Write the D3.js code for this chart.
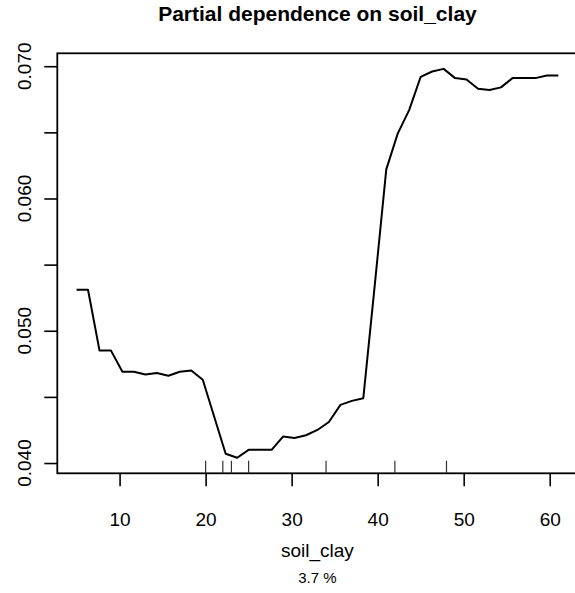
<!DOCTYPE html>
<meta charset="utf-8">
<style>
body { margin: 0; background: #fff; }
svg { font-family: "Liberation Sans", Arial, sans-serif; }
.axis text { font-size: 19px; fill: #000; }
.axis line { stroke: #000; stroke-width: 1.6px; }
.axis .domain { display: none; }
.curve { fill: none; stroke: #000; stroke-width: 2px; stroke-linejoin: round; }
.rug line { stroke: #333; stroke-width: 1.2px; }
</style>
<svg width="575" height="593"></svg>
<script src="https://d3js.org/d3.v7.min.js"></script>
<script>

// soil_clay grid and partial dependence values
var soilClay = [5, 6.33, 7.67, 9, 10.33, 11.67, 13, 14.33, 15.67, 17, 18.33, 19.67,
  21, 22.33, 23.67, 25, 26.33, 27.67, 29, 30.33, 31.67, 33, 34.33, 35.67, 37,
  38.33, 39.67, 41, 42.33, 43.67, 45, 46.33, 47.67, 49, 50.33, 51.67, 53, 54.33,
  55.67, 57, 58.33, 59.67, 61];
var partialDep = [0.0531, 0.0531, 0.0485, 0.0485, 0.0469, 0.0469, 0.0467, 0.0468,
  0.0466, 0.0469, 0.0470, 0.0463, 0.0435, 0.0407, 0.0404, 0.0410, 0.0410, 0.0410,
  0.0420, 0.0419, 0.0421, 0.0425, 0.0431, 0.0444, 0.0447, 0.0449, 0.0535, 0.0622,
  0.0649, 0.0667, 0.0692, 0.0696, 0.0698, 0.0691, 0.0690, 0.0683, 0.0682, 0.0684,
  0.0691, 0.0691, 0.0691, 0.0693, 0.0693];

// deciles of the training data (rug)
var rugValues = [20, 22, 23, 25, 34, 42, 48];

var xTicks = [10, 20, 30, 40, 50, 60];
var yTicks = [0.040, 0.045, 0.050, 0.055, 0.060, 0.065, 0.070];
var yTickLabels = ["0.040", "0.050", "0.060", "0.070"];

var svg = d3.select("svg");

var plotLeft = 57.3, plotRight = 577.6, plotTop = 53.3, plotBottom = 473.3;

// R style 4% padding on the data range
function padded(ext) {
  var p = (ext[1] - ext[0]) * 0.04;
  return [ext[0] - p, ext[1] + p];
}

var x = d3.scaleLinear()
    .domain(padded(d3.extent(soilClay)))
    .range([plotLeft, plotRight]);

var y = d3.scaleLinear()
    .domain(padded(d3.extent(partialDep)))
    .range([plotBottom, plotTop]);

// box
svg.append("rect")
    .attr("x", plotLeft)
    .attr("y", plotTop)
    .attr("width", plotRight - plotLeft)
    .attr("height", plotBottom - plotTop)
    .attr("fill", "none")
    .attr("stroke", "#000")
    .attr("stroke-width", 1.8);

// x axis
svg.append("g")
    .attr("class", "axis")
    .attr("transform", "translate(0," + plotBottom + ")")
    .call(d3.axisBottom(x).tickValues(xTicks).tickSize(13).tickSizeOuter(0).tickPadding(26)
      .tickFormat(d3.format("d")));

// y axis (ticks only, labels rotated below)
svg.append("g")
    .attr("class", "axis")
    .attr("transform", "translate(" + plotLeft + ",0)")
    .call(d3.axisLeft(y).tickValues(yTicks).tickSize(13).tickSizeOuter(0).tickFormat(""));

svg.append("g")
    .attr("class", "axis")
  .selectAll("text")
  .data(yTickLabels)
  .enter().append("text")
    .attr("transform", function(d) { return "translate(31," + y(+d) + ") rotate(-90)"; })
    .attr("text-anchor", "middle")
    .text(function(d) { return d; });

// rug
svg.append("g")
    .attr("class", "rug")
  .selectAll("line")
  .data(rugValues)
  .enter().append("line")
    .attr("x1", function(d) { return x(d); })
    .attr("x2", function(d) { return x(d); })
    .attr("y1", plotBottom)
    .attr("y2", plotBottom - 12.6);

// curve
var line = d3.line()
    .x(function(d, i) { return x(soilClay[i]); })
    .y(function(d) { return y(d); });

svg.append("path")
    .datum(partialDep)
    .attr("class", "curve")
    .attr("d", line);

// titles
var cx = (plotLeft + plotRight) / 2;

svg.append("text")
    .attr("x", cx)
    .attr("y", 21)
    .attr("text-anchor", "middle")
    .style("font-weight", "bold")
    .style("font-size", "21px")
    .text("Partial dependence on soil_clay");

svg.append("text")
    .attr("x", cx)
    .attr("y", 557)
    .attr("text-anchor", "middle")
    .style("font-size", "19px")
    .text("soil_clay");

svg.append("text")
    .attr("x", cx)
    .attr("y", 583)
    .attr("text-anchor", "middle")
    .style("font-size", "15px")
    .text("3.7 %");

</script>
